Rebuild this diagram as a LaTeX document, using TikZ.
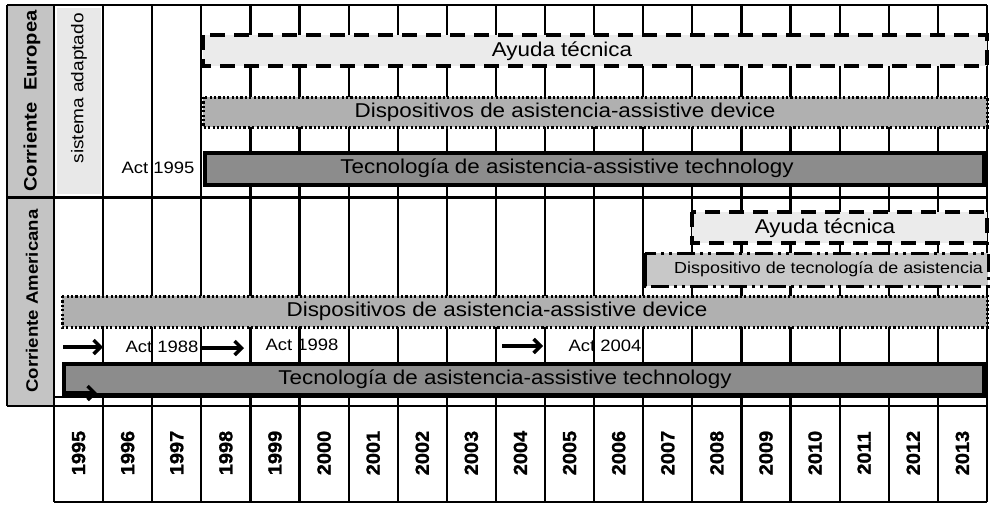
\documentclass[tikz,border=0pt]{standalone}
\usepackage{fontspec}
\setmainfont{Liberation Sans}[FakeStretch=1.12]
\newfontfamily\heavyfont{Liberation Sans}[FakeStretch=1.05, FakeBold=1.2, BoldFont={Liberation Sans Bold}]
\usetikzlibrary{arrows.meta}
\definecolor{cLabel}{HTML}{C4C4C4}
\definecolor{cSist}{HTML}{E8E8E8}
\definecolor{cAyuda}{HTML}{EBEBEB}
\definecolor{cDisp}{HTML}{B0B0B0}
\definecolor{cDispA}{HTML}{A8A8A8}
\definecolor{cTec}{HTML}{8C8C8C}
\definecolor{cDTec}{HTML}{C8C8C8}
\tikzset{
  gridline/.style={line width=2.2pt, black},
  ayudabar/.style={draw=black, fill=cAyuda, line width=3.2pt, dash pattern=on 15pt off 9pt},
  dispbar/.style={draw=black, fill=cDisp, line width=3pt, dash pattern=on 2.2pt off 2.2pt},
  tecbar/.style={draw=black, fill=cTec, line width=3.8pt},
  dtecbar/.style={draw=black, fill=cDTec, line width=3pt, dash pattern=on 18pt off 5pt on 3pt off 5pt on 3pt off 5pt},
  bartext/.style={inner sep=0pt, font=\fontsize{20}{22}\selectfont},
  acttext/.style={inner sep=0pt, font=\fontsize{16.5}{18}\selectfont},
  smalltext/.style={inner sep=0pt, font=\fontsize{16}{18}\selectfont},
  sectext/.style={inner sep=0pt, rotate=90, font=\fontsize{18}{20}\selectfont\bfseries},
  yeartext/.style={inner sep=0pt, rotate=90, font=\heavyfont\fontsize{19}{21}\selectfont\bfseries},
  arrowc/.style={line width=3.4pt, -{Straight Barb[length=7pt,width=14pt]}},
}
\begin{document}
\begin{tikzpicture}[x=1pt,y=-1pt]
\clip (0,0) rectangle (992,504);
\fill[white] (0,0) rectangle (992,504);

% section label cells
\fill[cLabel] (7,5) rectangle (54,197);
\fill[cLabel] (7,198) rectangle (54,406);

% grid
\foreach \i in {0,...,19}
  \draw[gridline] ({54+49.1*\i},5) -- ({54+49.1*\i},502);
\draw[gridline] (7,5) -- (987,5);
\draw[gridline] (7,197.5) -- (987,197.5);
\draw[gridline] (54,397) -- (987,397);
\draw[gridline] (7,406) -- (987,406);
\draw[gridline] (54,502) -- (987,502);
\draw[gridline] (7,5) -- (7,406);
\fill[cSist] (57,8) rectangle (101,194);

% section labels
\node[sectext] (eu) at (32,101) {Corriente\ \ Europea};
\node[sectext, font=\fontsize{16.6}{19}\selectfont\bfseries] (am) at (32,301) {Corriente Americana};
\node[inner sep=0pt, rotate=90, anchor=east, font=\fontsize{17}{19}\selectfont] (sa) at (79,13) {sistema adaptado};

% Europe bars
\path[ayudabar] (203,35) rectangle (987,66);
\node[bartext] (euay) at (562,51) {Ayuda técnica};
\path[dispbar] (203,97) rectangle (987,127);
\node[bartext] (eudi) at (565,112) {Dispositivos de asistencia-assistive device};
\path[tecbar] (205,153) rectangle (984,185);
\node[bartext] (eute) at (567,168) {Tecnología de asistencia-assistive technology};
\node[acttext] (act95) at (158,168) {Act 1995};

% America bars
\path[ayudabar] (692,212) rectangle (987,243);
\node[bartext] (amay) at (825,228) {Ayuda técnica};
\path[dtecbar] (645,253) rectangle (988,286);
\draw[line width=3.8pt] (645,253) -- (645,286);
\node[smalltext, anchor=west] (amdt) at (674,269) {Dispositivo de tecnología de asistencia};
\path[dispbar] (62,296) rectangle (987,327);
\node[bartext] (amdi) at (497,311) {Dispositivos de asistencia-assistive device};
\path[tecbar] (64,364) rectangle (984,395);
\node[bartext] (amte) at (505,379) {Tecnología de asistencia-assistive technology};

% Act labels and arrows
\node[acttext] (act88) at (162,347) {Act 1988};
\node[acttext] (act98) at (302,345) {Act 1998};
\node[acttext] (act04) at (605,346) {Act 2004};
\coordinate (a1s) at (63,347);  \coordinate (a1e) at (103,347);
\coordinate (a2s) at (202,348); \coordinate (a2e) at (244,348);
\coordinate (a3s) at (502,346); \coordinate (a3e) at (543,346);
\coordinate (a4s) at (66,393);  \coordinate (a4e) at (97,393);
\draw[arrowc] (a1s) -- (a1e);
\draw[arrowc] (a2s) -- (a2e);
\draw[arrowc] (a3s) -- (a3e);
\draw[arrowc] (a4s) -- (a4e);

% years
\foreach \y [count=\i from 0] in {1995,...,2013}
  \node[yeartext] (y\y) at ({54+49.1*\i+24.55},453) {\y};
\end{tikzpicture}
\end{document}
